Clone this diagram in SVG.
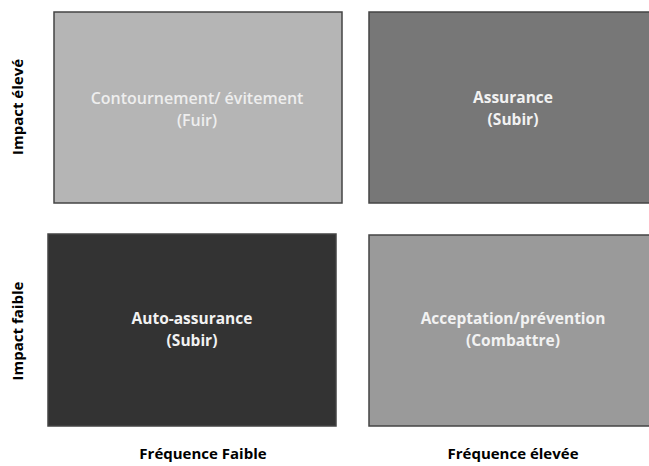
<svg xmlns="http://www.w3.org/2000/svg" width="649" height="466" viewBox="0 0 649 466">
<style>
.box{stroke:#444444;stroke-width:1.5}
.t{font-family:"Open Sans","Liberation Sans",sans-serif;font-size:15.5px;font-weight:700;fill:#f2f2f2;text-anchor:middle}
.r{font-size:16px;font-weight:600;fill:#eeeeee}
.ax{font-family:"Open Sans","Liberation Sans",sans-serif;font-size:15px;font-weight:700;fill:#000;text-anchor:middle}
</style>
<rect width="649" height="466" fill="#ffffff"/>
<g id="q-contournement">
<rect class="box" x="54" y="12" width="288" height="191" fill="#b5b5b5"/>
<text class="t r" x="197" y="104">Contournement/ évitement</text>
<text class="t r" x="197" y="126">(Fuir)</text>
</g>
<g id="q-assurance">
<rect class="box" x="369" y="12" width="282" height="191" fill="#777777"/>
<text class="t" x="513" y="103">Assurance</text>
<text class="t" x="513" y="125">(Subir)</text>
</g>
<g id="q-auto-assurance">
<rect class="box" x="48" y="234" width="288" height="192" fill="#333333"/>
<text class="t" x="192" y="324">Auto-assurance</text>
<text class="t" x="192" y="346">(Subir)</text>
</g>
<g id="q-acceptation">
<rect class="box" x="369" y="235" width="282" height="191" fill="#9a9a9a"/>
<text class="t" x="513" y="324">Acceptation/prévention</text>
<text class="t" x="513" y="346">(Combattre)</text>
</g>
<g id="axis-labels">
<text class="ax" transform="translate(23,107) rotate(-90)">Impact élevé</text>
<text class="ax" transform="translate(23,331) rotate(-90)">Impact faible</text>
<text class="ax" x="203" y="459">Fréquence Faible</text>
<text class="ax" x="513" y="459">Fréquence élevée</text>
</g>
<g id="connectors"></g>
</svg>
